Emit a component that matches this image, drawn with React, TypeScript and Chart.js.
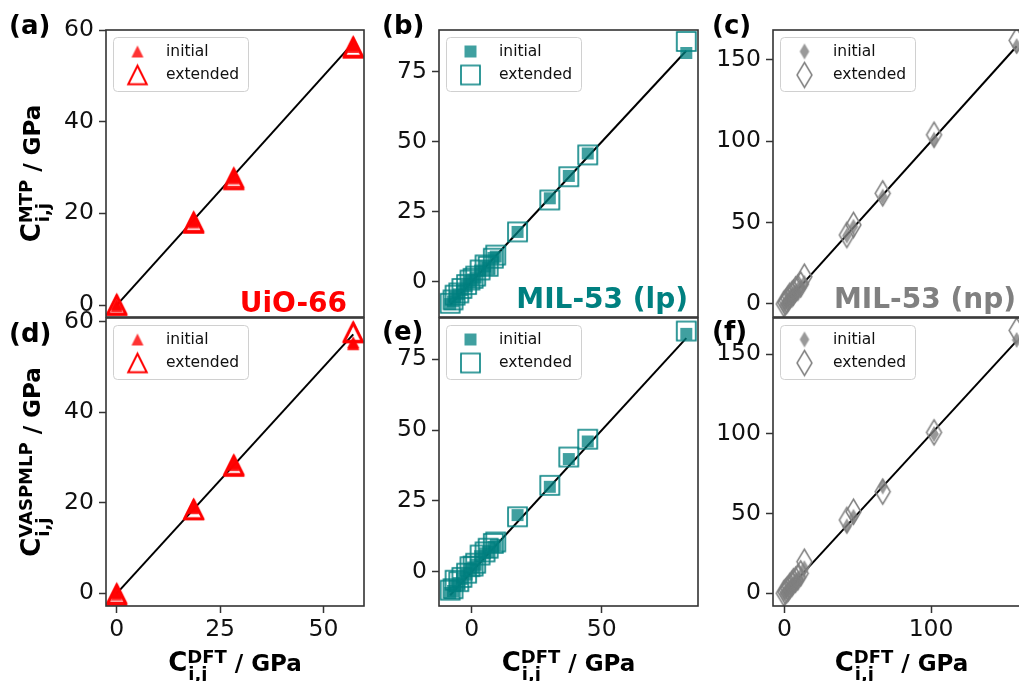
import React, { useEffect, useRef } from 'react';
import { Chart, registerables } from 'chart.js';
Chart.register(...registerables);

// ---------- data ----------
const UIO_DFT = [0, 0, 0, 18.6, 18.6, 18.6, 28.3, 28.3, 28.3, 57.2, 57.2, 57.2];
const UIO_MTP_INITIAL = [0.3, -0.2, 0.1, 18.0, 18.6, 18.3, 27.6, 28.2, 27.9, 56.3, 56.9, 56.6];
const UIO_MTP_EXTENDED = [0, 0.2, -0.1, 18.0, 18.2, 17.8, 27.5, 27.8, 27.3, 56.2, 56.4, 56.0];
const UIO_VASP_INITIAL = [0.3, -0.3, 0.1, 18.8, 19.3, 19.0, 28.3, 28.9, 28.6, 55.0, 55.5, 55.2];
const UIO_VASP_EXTENDED = [-0.3, 0, -0.5, 18.4, 18.6, 18.5, 28.0, 28.4, 28.2, 57.5, 57.8, 57.6];

const LP_DFT = [-8.3, -7.2, -6.4, -5.0, -3.8, -2.0, -0.7, 0.5, 1.5, 3.2, 5.1, 6.3, 8.3, 9.2, 17.6, 30.0, 37.3, 44.6, 82.5];
const LP_MTP_INITIAL = [-8.0, -7.0, -5.5, -4.5, -3.0, -1.5, 0.0, 0.8, 1.5, 4.0, 5.5, 5.0, 8.5, 9.0, 17.8, 29.8, 37.8, 45.8, 81.7];
const LP_MTP_EXTENDED = [-7.7, -6.5, -4.8, -4.0, -2.4, -1.0, 0.6, 1.2, 2.0, 4.2, 6.0, 5.5, 8.4, 9.5, 17.8, 29.2, 37.5, 45.3, 85.8];
const LP_VASP_INITIAL = [-7.5, -6.8, -5.0, -4.0, -2.5, -1.0, 1.0, 1.5, 2.5, 5.5, 6.5, 7.0, 8.8, 9.5, 20.0, 30.0, 39.8, 46.0, 84.0];
const LP_VASP_EXTENDED = [-6.5, -6.0, -3.0, -3.5, -2.0, -0.5, 1.8, 2.0, 3.0, 5.9, 7.0, 8.3, 10.0, 10.5, 19.4, 30.5, 40.5, 46.8, 85.0];

const NP_DFT = [-0.5, 0.5, 1.5, 2.5, 3.5, 5, 6, 7.5, 9, 11, 13.5, 42.5, 47, 67, 102, 158.4];
const NP_MTP_INITIAL = [-1, 0, 1.5, 2, 4, 5, 6.5, 7, 9, 10, 13, 42, 47.5, 66, 101, 158.5];
const NP_MTP_EXTENDED = [0, 1, 2, 3.5, 5, 6, 7, 9, 10, 12, 16.8, 42.4, 48.6, 68, 104, 162];
const NP_VASP_INITIAL = [-0.5, 0.5, 1, 2.5, 3.5, 5, 6, 8, 9, 11, 15.7, 42, 48, 67, 100, 159];
const NP_VASP_EXTENDED = [0, 1, 2, 3, 4.5, 6, 7.5, 8.5, 10, 12.5, 19.8, 46, 51.2, 63.8, 101, 165];

const UIO_X_TICKS = [0, 25, 50];
const UIO_Y_TICKS = [0, 20, 40, 60];
const LP_X_TICKS = [0, 50];
const LP_Y_TICKS = [0, 25, 50, 75];
const NP_X_TICKS = [0, 100];
const NP_Y_TICKS = [0, 50, 100, 150];

const LEGEND_LABELS = ['initial', 'extended'];
const PANEL_LETTERS = ['(a)', '(b)', '(c)', '(d)', '(e)', '(f)'];
const MATERIAL_NAMES = ['UiO-66', 'MIL-53 (lp)', 'MIL-53 (np)'];
const Y_TITLE_SUPS = ['MTP', 'VASPMLP'];
const X_TITLE_SUP = 'DFT';

// ---------- layout ----------
const W = 1060;
const H = 681;
const FONT = '"DejaVu Sans", sans-serif';

type Kind = 'tri' | 'sq' | 'dia';

function makeMarker(kind: Kind, w: number, h: number, fill: string | null, stroke: string | null, lw: number) {
  const pad = Math.ceil(lw * 3) + 2;
  const c = document.createElement('canvas');
  c.width = Math.round(w + pad * 2);
  c.height = Math.round(h + pad * 2);
  const ctx = c.getContext('2d')!;
  const cx = c.width / 2;
  const cy = c.height / 2;
  ctx.beginPath();
  if (kind === 'tri') {
    ctx.moveTo(cx, cy - h / 2);
    ctx.lineTo(cx + w / 2, cy + h / 2);
    ctx.lineTo(cx - w / 2, cy + h / 2);
    ctx.closePath();
  } else if (kind === 'sq') {
    ctx.rect(cx - w / 2, cy - h / 2, w, h);
  } else {
    ctx.moveTo(cx, cy - h / 2);
    ctx.lineTo(cx + w / 2, cy);
    ctx.lineTo(cx, cy + h / 2);
    ctx.lineTo(cx - w / 2, cy);
    ctx.closePath();
  }
  if (fill) {
    ctx.fillStyle = fill;
    ctx.fill();
  }
  if (stroke) {
    ctx.lineWidth = lw;
    ctx.lineJoin = 'miter';
    ctx.strokeStyle = stroke;
    ctx.stroke();
  }
  return c;
}

function drawMathTitle(ctx: CanvasRenderingContext2D, sup: string, x: number, y: number, rotated: boolean) {
  const fMain = `bold 26px ${FONT}`;
  const fScript = `bold 18px ${FONT}`;
  const fRest = `bold 23px ${FONT}`;
  ctx.font = fMain;
  const wC = ctx.measureText('C').width;
  ctx.font = fScript;
  const wSup = ctx.measureText(sup).width;
  const wSub = ctx.measureText('i,j').width;
  ctx.font = fRest;
  const rest = ' / GPa';
  const wRest = ctx.measureText(rest).width;
  const total = wC + Math.max(wSup, wSub) + wRest;
  ctx.save();
  ctx.translate(x, y);
  if (rotated) ctx.rotate(-Math.PI / 2);
  ctx.textAlign = 'left';
  ctx.textBaseline = 'alphabetic';
  ctx.fillStyle = '#000';
  let cx = -total / 2;
  ctx.font = fMain;
  ctx.fillText('C', cx, 0);
  cx += wC;
  ctx.font = fScript;
  ctx.fillText(sup, cx, -8);
  ctx.fillText('i,j', cx + 1, 9);
  cx += Math.max(wSup, wSub);
  ctx.font = fRest;
  ctx.fillText(rest, cx, 0);
  ctx.restore();
}

type Panel = {
  plot: { l: number; t: number; r: number; b: number };
  xr: [number, number];
  yr: [number, number];
  xTicks: number[];
  yTicks: number[];
  showX: boolean;
  dft: number[];
  initial: number[];
  extended: number[];
  kind: Kind;
  color: string;
  fill: string;
  letter: string;
  letterX: number;
  letterY: number;
  name: string | null;
  nameX: number;
  nameY: number;
  ySup: string | null;
};

const RED = '#ff0000';
const TEAL = '#008080';
const GREY = '#808080';

const PANELS: Panel[] = [
  {
    plot: { l: 106, t: 30, r: 364, b: 317 }, xr: [-2.6, 59.8], yr: [-2.6, 60.0],
    xTicks: UIO_X_TICKS, yTicks: UIO_Y_TICKS, showX: false,
    dft: UIO_DFT, initial: UIO_MTP_INITIAL, extended: UIO_MTP_EXTENDED,
    kind: 'tri', color: RED, fill: 'rgba(255,0,0,0.8)',
    letter: PANEL_LETTERS[0], letterX: 9, letterY: 27,
    name: MATERIAL_NAMES[0], nameX: 347, nameY: 312, ySup: Y_TITLE_SUPS[0],
  },
  {
    plot: { l: 439, t: 30, r: 698, b: 317 }, xr: [-12.6, 87.0], yr: [-12.6, 89.9],
    xTicks: LP_X_TICKS, yTicks: LP_Y_TICKS, showX: false,
    dft: LP_DFT, initial: LP_MTP_INITIAL, extended: LP_MTP_EXTENDED,
    kind: 'sq', color: TEAL, fill: 'rgba(0,128,128,0.75)',
    letter: PANEL_LETTERS[1], letterX: 382, letterY: 27,
    name: MATERIAL_NAMES[1], nameX: 688, nameY: 308, ySup: null,
  },
  {
    plot: { l: 773, t: 30, r: 1030, b: 317 }, xr: [-7.9, 167.5], yr: [-8.0, 168.4],
    xTicks: NP_X_TICKS, yTicks: NP_Y_TICKS, showX: false,
    dft: NP_DFT, initial: NP_MTP_INITIAL, extended: NP_MTP_EXTENDED,
    kind: 'dia', color: GREY, fill: 'rgba(128,128,128,0.8)',
    letter: PANEL_LETTERS[2], letterX: 712, letterY: 27,
    name: MATERIAL_NAMES[2], nameX: 1016, nameY: 308, ySup: null,
  },
  {
    plot: { l: 106, t: 318, r: 364, b: 606 }, xr: [-2.6, 59.8], yr: [-2.8, 60.8],
    xTicks: UIO_X_TICKS, yTicks: UIO_Y_TICKS, showX: true,
    dft: UIO_DFT, initial: UIO_VASP_INITIAL, extended: UIO_VASP_EXTENDED,
    kind: 'tri', color: RED, fill: 'rgba(255,0,0,0.8)',
    letter: PANEL_LETTERS[3], letterX: 9, letterY: 335,
    name: null, nameX: 0, nameY: 0, ySup: Y_TITLE_SUPS[1],
  },
  {
    plot: { l: 439, t: 318, r: 698, b: 606 }, xr: [-12.6, 87.0], yr: [-12.1, 89.6],
    xTicks: LP_X_TICKS, yTicks: LP_Y_TICKS, showX: true,
    dft: LP_DFT, initial: LP_VASP_INITIAL, extended: LP_VASP_EXTENDED,
    kind: 'sq', color: TEAL, fill: 'rgba(0,128,128,0.75)',
    letter: PANEL_LETTERS[4], letterX: 382, letterY: 333,
    name: null, nameX: 0, nameY: 0, ySup: null,
  },
  {
    plot: { l: 773, t: 318, r: 1030, b: 606 }, xr: [-7.9, 167.5], yr: [-8.0, 172.8],
    xTicks: NP_X_TICKS, yTicks: NP_Y_TICKS, showX: true,
    dft: NP_DFT, initial: NP_VASP_INITIAL, extended: NP_VASP_EXTENDED,
    kind: 'dia', color: GREY, fill: 'rgba(128,128,128,0.8)',
    letter: PANEL_LETTERS[5], letterX: 712, letterY: 333,
    name: null, nameX: 0, nameY: 0, ySup: null,
  },
];

function markersFor(p: Panel) {
  if (p.kind === 'tri') {
    return {
      ini: makeMarker('tri', 12, 12, p.fill, null, 0),
      ext: makeMarker('tri', 18.5, 18.5, null, p.color, 2),
    };
  }
  if (p.kind === 'sq') {
    return {
      ini: makeMarker('sq', 12, 12, p.fill, null, 0),
      ext: makeMarker('sq', 19, 19, null, p.color, 1.6),
    };
  }
  return {
    ini: makeMarker('dia', 9.6, 16, p.fill, null, 0),
    ext: makeMarker('dia', 15, 25, null, p.color, 1.5),
  };
}

const decoPlugin = {
  id: 'deco',
  afterDraw(chart: any) {
    const o = chart.options.plugins.deco;
    const p: Panel = o.panel;
    const ctx: CanvasRenderingContext2D = chart.ctx;
    const a = chart.chartArea;
    ctx.save();
    // frame
    ctx.strokeStyle = '#333';
    ctx.lineWidth = 1.6;
    ctx.strokeRect(a.left, a.top, a.right - a.left, a.bottom - a.top);
    // legend
    const lx = a.left + 7.5;
    const ly = a.top + 7.5;
    const lw = 135;
    const lh = 54;
    ctx.beginPath();
    const r = 4;
    ctx.moveTo(lx + r, ly);
    ctx.arcTo(lx + lw, ly, lx + lw, ly + lh, r);
    ctx.arcTo(lx + lw, ly + lh, lx, ly + lh, r);
    ctx.arcTo(lx, ly + lh, lx, ly, r);
    ctx.arcTo(lx, ly, lx + lw, ly, r);
    ctx.closePath();
    ctx.fillStyle = 'rgba(255,255,255,0.8)';
    ctx.fill();
    ctx.strokeStyle = '#d0d0d0';
    ctx.lineWidth = 1;
    ctx.stroke();
    const mk = o.markers;
    const rows = [a.top + 21.5, a.top + 45];
    const imgs = [mk.ini, mk.ext];
    ctx.font = `15.5px ${FONT}`;
    ctx.fillStyle = '#111';
    ctx.textAlign = 'left';
    ctx.textBaseline = 'middle';
    for (let i = 0; i < 2; i++) {
      const img = imgs[i];
      ctx.drawImage(img, a.left + 31.5 - img.width / 2, rows[i] - img.height / 2);
      ctx.fillText(LEGEND_LABELS[i], a.left + 60, rows[i]);
    }
    // panel letter
    ctx.font = `bold 26px ${FONT}`;
    ctx.fillStyle = '#000';
    ctx.textBaseline = 'middle';
    ctx.fillText(p.letter, p.letterX, p.letterY);
    // material name
    if (p.name) {
      ctx.font = `bold 28px ${FONT}`;
      ctx.fillStyle = p.color;
      ctx.textAlign = 'right';
      ctx.textBaseline = 'alphabetic';
      ctx.fillText(p.name, p.nameX, p.nameY);
    }
    // axis titles
    if (p.ySup) drawMathTitle(ctx, p.ySup, 40, (a.top + a.bottom) / 2, true);
    if (p.showX) drawMathTitle(ctx, X_TITLE_SUP, (a.left + a.right) / 2, 671, false);
    ctx.restore();
  },
};

function buildConfig(p: Panel) {
  const mk = markersFor(p);
  const lo = Math.min(...p.dft);
  const hi = Math.max(...p.dft);
  const tickFont = { family: FONT, size: 23.5 };
  const grid = {
    display: true,
    drawOnChartArea: false,
    drawTicks: true,
    tickLength: 7,
    tickWidth: 1.5,
    tickColor: '#333',
    color: '#333',
  };
  return {
    type: 'scatter' as const,
    data: {
      datasets: [
        {
          label: LEGEND_LABELS[1],
          data: p.dft.map((x, i) => ({ x, y: p.extended[i] })),
          pointStyle: mk.ext,
          pointRadius: 10,
          pointHoverRadius: 10,
        },
        {
          label: LEGEND_LABELS[0],
          data: p.dft.map((x, i) => ({ x, y: p.initial[i] })),
          pointStyle: mk.ini,
          pointRadius: 6,
          pointHoverRadius: 6,
        },
        {
          label: 'y = x',
          data: [{ x: lo, y: lo }, { x: hi, y: hi }],
          showLine: true,
          borderColor: '#000',
          borderWidth: 2,
          pointRadius: 0,
          pointHoverRadius: 0,
          fill: false,
        },
      ],
    },
    options: {
      animation: false,
      responsive: false,
      devicePixelRatio: 1,
      events: [],
      layout: {
        padding: {
          left: 0,
          top: p.plot.t,
          right: W - p.plot.r,
          bottom: p.showX ? H - p.plot.b - 40 : H - p.plot.b,
        },
      },
      plugins: {
        legend: { display: false },
        tooltip: { enabled: false },
        deco: { panel: p, markers: mk },
      },
      scales: {
        x: {
          type: 'linear',
          min: p.xr[0],
          max: p.xr[1],
          display: p.showX,
          afterBuildTicks: (s: any) => {
            s.ticks = p.xTicks.map((v) => ({ value: v }));
          },
          afterFit: (s: any) => {
            s.height = p.showX ? 40 : 0;
          },
          ticks: { font: tickFont, color: '#111', padding: 3, maxRotation: 0, autoSkip: false },
          grid,
          border: { display: false },
        },
        y: {
          type: 'linear',
          min: p.yr[0],
          max: p.yr[1],
          afterBuildTicks: (s: any) => {
            s.ticks = p.yTicks.map((v) => ({ value: v }));
          },
          afterFit: (s: any) => {
            s.width = p.plot.l;
          },
          ticks: { font: tickFont, color: '#111', padding: 5, autoSkip: false },
          grid,
          border: { display: false },
        },
      },
    },
    plugins: [decoPlugin],
  };
}

export default function App() {
  const refs = useRef<(HTMLCanvasElement | null)[]>([]);
  useEffect(() => {
    const charts: Chart[] = [];
    PANELS.forEach((p, i) => {
      const c = refs.current[i];
      if (!c) return;
      charts.push(new Chart(c, buildConfig(p) as any));
    });
    return () => charts.forEach((ch) => ch.destroy());
  }, []);
  return (
    <div
      style={{
        position: 'fixed',
        left: 0,
        top: 0,
        width: 1019,
        height: 681,
        overflow: 'hidden',
        background: '#fff',
      }}
    >
      {PANELS.map((_, i) => (
        <canvas
          key={i}
          ref={(el) => {
            refs.current[i] = el;
          }}
          width={W}
          height={H}
          style={{ position: 'absolute', left: 0, top: 0, width: W, height: H }}
        />
      ))}
    </div>
  );
}
